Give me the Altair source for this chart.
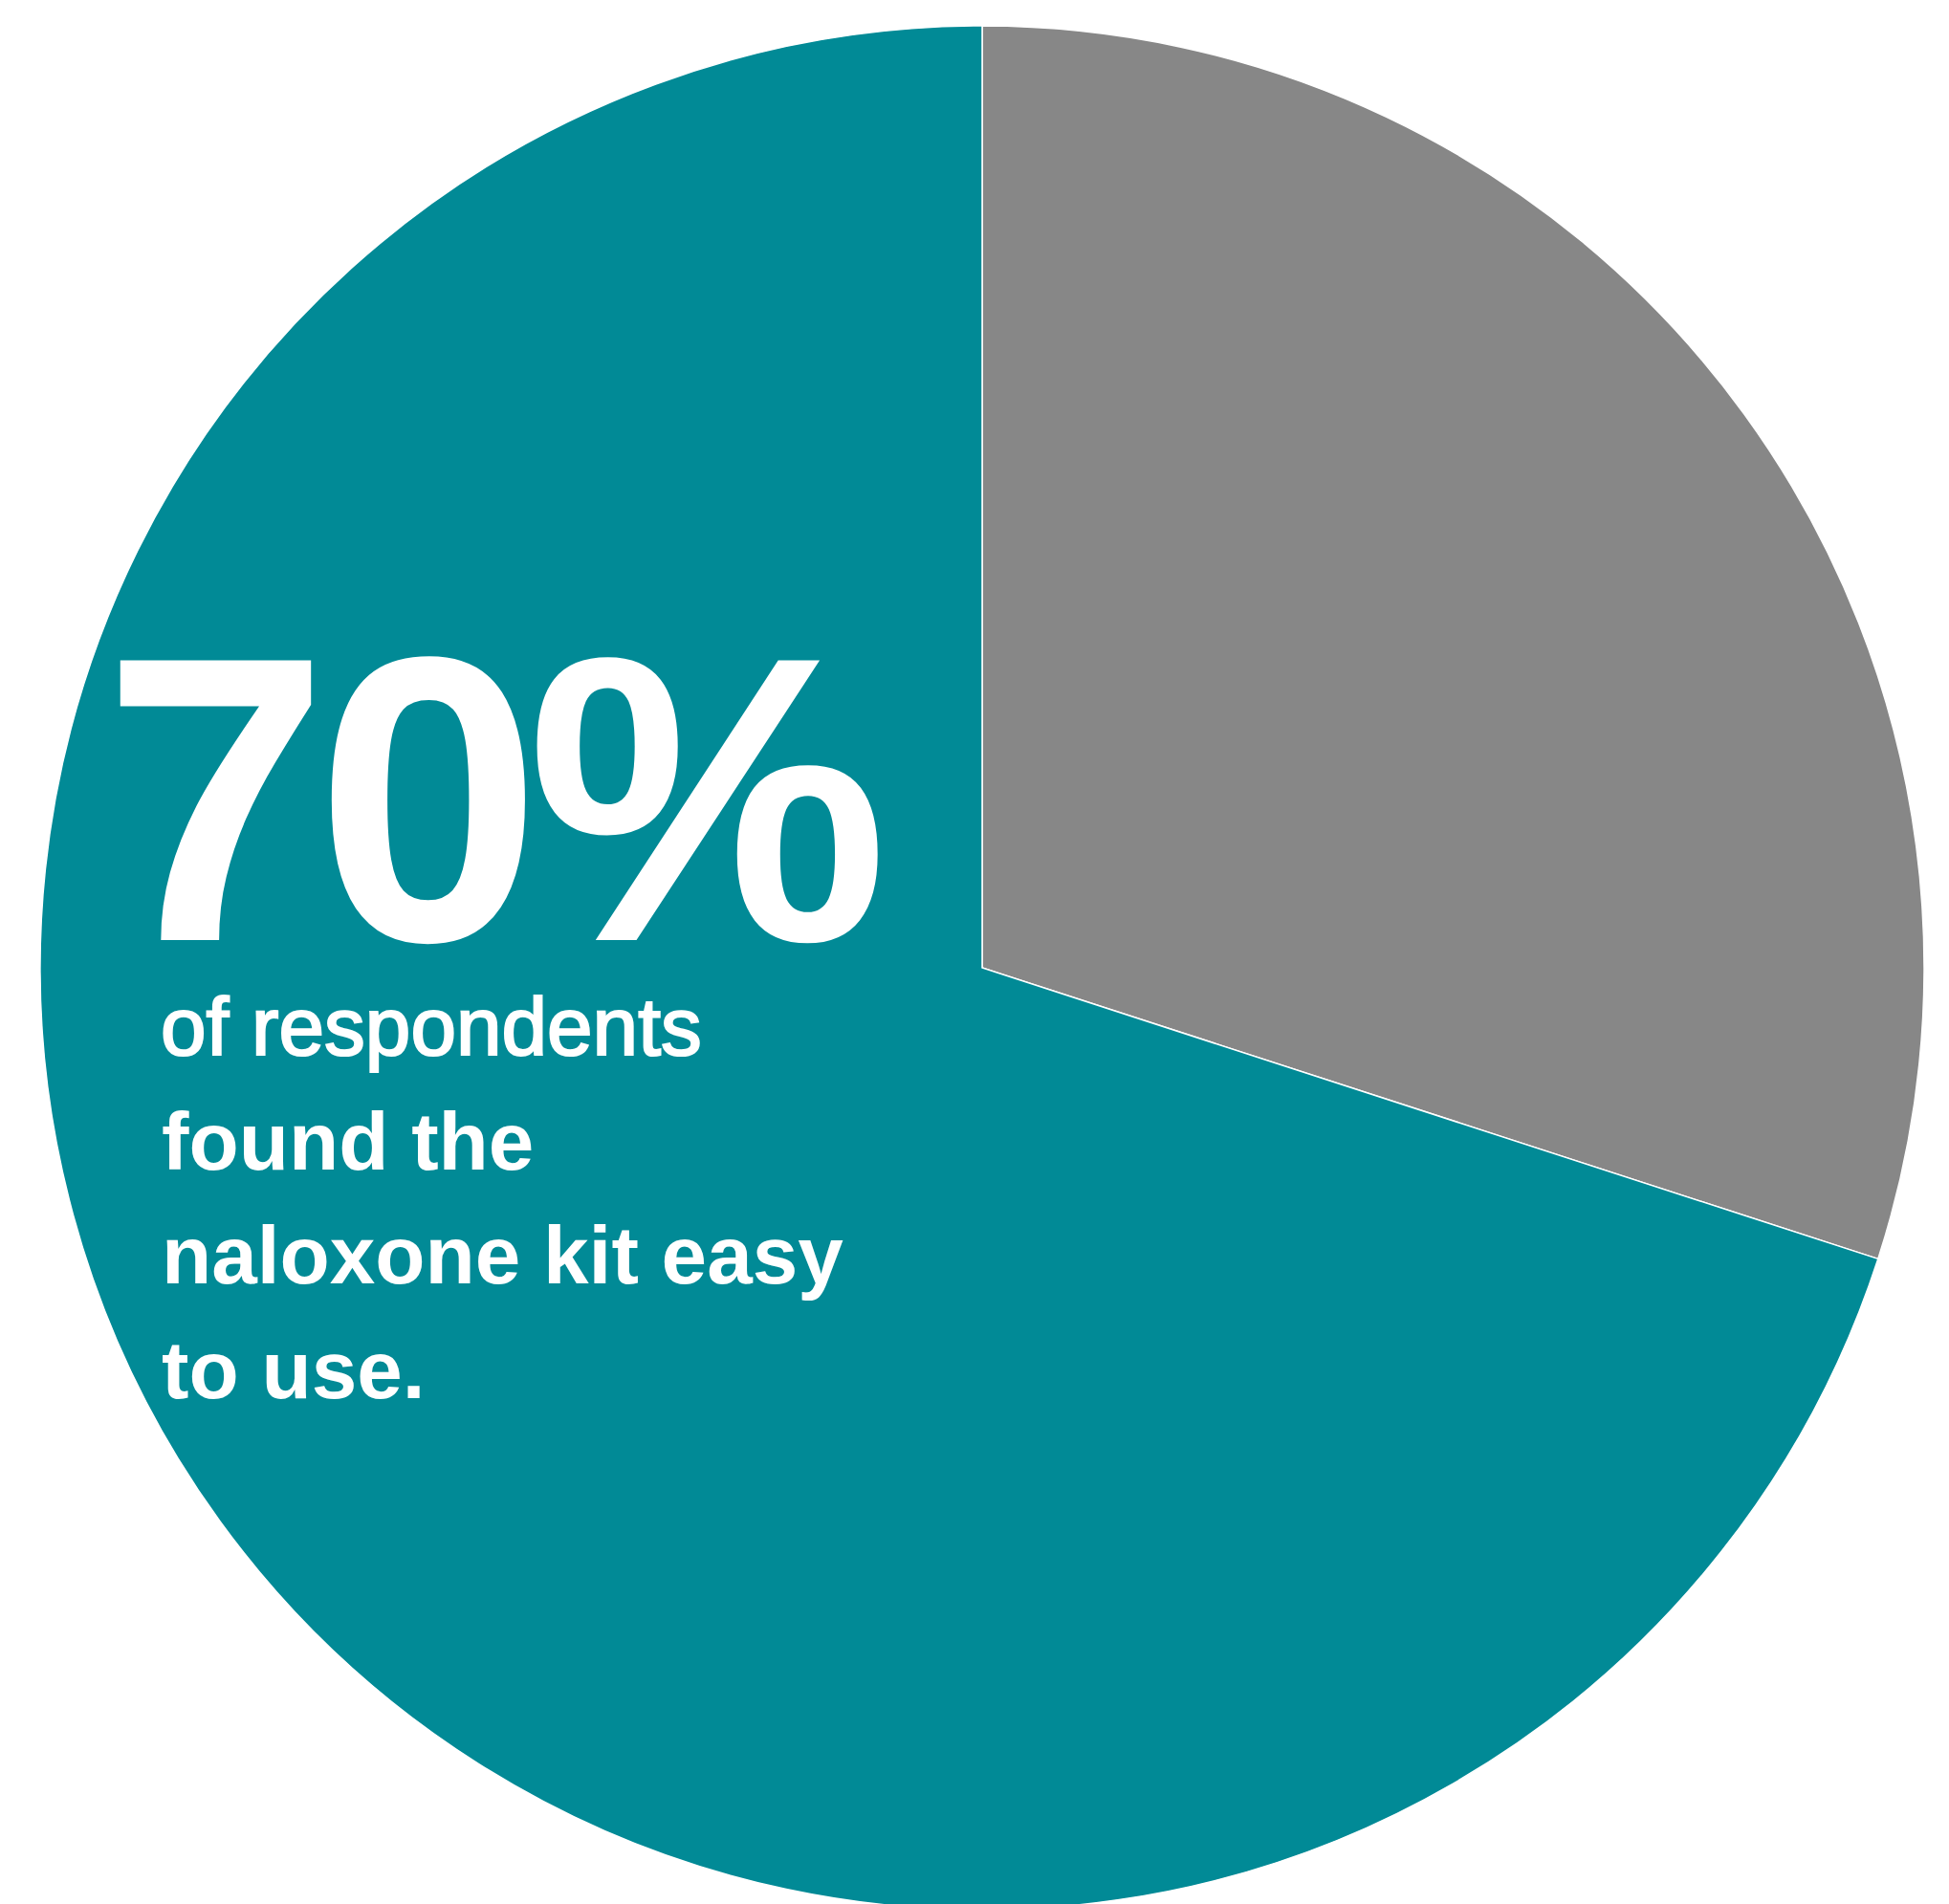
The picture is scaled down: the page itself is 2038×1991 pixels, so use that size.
import altair as alt
import pandas as pd

categories = ["Did not find it easy", "Found it easy"]
values = [30, 70]
colors = ["#878787", "#018A96"]

headline_parts = ["7", "0", "%"]
sub_lines = ["of respondents", "found the", "naloxone kit easy", "to use."]

df = pd.DataFrame({"category": categories, "value": values, "order": [0, 1]})

pie = alt.Chart(df).mark_arc(radius=985, stroke="white", strokeWidth=1.5).encode(
    theta=alt.Theta("value:Q", stack=True),
    order=alt.Order("order:Q"),
    color=alt.Color("category:N", scale=alt.Scale(domain=categories, range=colors), legend=None),
    x=alt.value(1019),
    y=alt.value(1004),
)

FONT = "Liberation Sans"
head_x = [99.5, 322, 543]
head_layers = [
    alt.Chart(pd.DataFrame({"t": [part]})).mark_text(
        font=FONT, fontWeight="bold", fontSize=425, color="white",
        align="left", baseline="alphabetic",
    ).encode(text="t:N", x=alt.value(hx), y=alt.value(975))
    for part, hx in zip(headline_parts, head_x)
]

sub_layers = []
for i, line in enumerate(sub_lines):
    first = i == 0
    sub_layers.append(
        alt.Chart(pd.DataFrame({"t": [line]})).mark_text(
            font=FONT,
            fontWeight="normal" if first else "bold",
            fontSize=85.5,
            color="white",
            stroke="white",
            strokeWidth=2.2 if first else 0,
            align="left", baseline="alphabetic",
        ).encode(text="t:N", x=alt.value(160 if first else 161), y=alt.value(1095 + 119.7 * i))
    )

chart = alt.layer(pie, *head_layers, *sub_layers).properties(
    width=2022, height=1983, autosize=alt.AutoSizeParams(type="none"), padding=0
).configure_view(stroke=None)

chart.save("out.html", embed_options={"renderer": "svg", "actions": False})
